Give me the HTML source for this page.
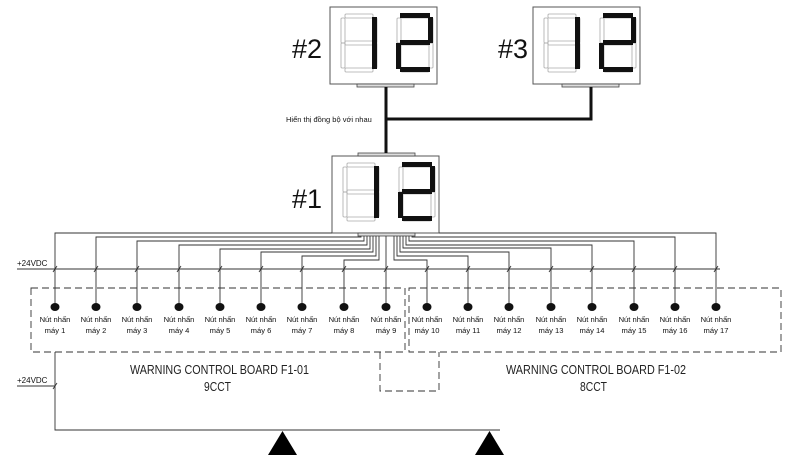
<!DOCTYPE html>
<html><head><meta charset="utf-8"><style>
html,body{margin:0;padding:0;background:#fff;}
svg{display:block;}
text{font-family:"Liberation Sans",sans-serif;}
.lbl{font-size:7.6px;fill:#111;text-anchor:middle;}
.big{font-family:"Liberation Sans",sans-serif;font-size:13px;fill:#222;}
</style></head><body>
<svg width="800" height="461" viewBox="0 0 800 461" xmlns="http://www.w3.org/2000/svg">
<defs>
  <g id="seg">
    <rect x="4" y="0" width="28" height="4" rx="1" fill="none" stroke="#aaa" stroke-width="0.8"/>
    <rect x="32" y="4" width="4" height="25" rx="1" fill="none" stroke="#aaa" stroke-width="0.8"/>
    <rect x="32" y="29" width="4" height="25" rx="1" fill="none" stroke="#aaa" stroke-width="0.8"/>
    <rect x="4" y="54" width="28" height="4" rx="1" fill="none" stroke="#aaa" stroke-width="0.8"/>
    <rect x="0" y="29" width="4" height="25" rx="1" fill="none" stroke="#aaa" stroke-width="0.8"/>
    <rect x="0" y="4" width="4" height="25" rx="1" fill="none" stroke="#aaa" stroke-width="0.8"/>
    <rect x="4" y="27" width="28" height="4" rx="1" fill="none" stroke="#aaa" stroke-width="0.8"/>
  </g>
  <g id="disp">
    <rect x="0" y="0" width="107" height="77" fill="#fff" stroke="#555" stroke-width="1"/>
    <use href="#seg" x="11" y="7"/>
    <use href="#seg" x="67" y="7"/>
    <rect x="42" y="10" width="5" height="26" fill="#111"/>
    <rect x="42" y="36" width="5" height="26" fill="#111"/>
    <rect x="70" y="6" width="30" height="5" fill="#111"/>
    <rect x="98" y="10" width="5" height="26" fill="#111"/>
    <rect x="70" y="33" width="30" height="5" fill="#111"/>
    <rect x="66" y="36" width="5" height="26" fill="#111"/>
    <rect x="70" y="60" width="30" height="5" fill="#111"/>
  </g>
</defs>

<use href="#disp" x="330" y="7"/>
<use href="#disp" x="533" y="7"/>
<use href="#disp" x="332" y="156"/>
<text x="292" y="58" font-size="27" fill="#111">#2</text>
<text x="498" y="58" font-size="27" fill="#111">#3</text>
<text x="292" y="208" font-size="27" fill="#111">#1</text>

<rect x="357" y="84" width="57" height="3" fill="#ddd" stroke="#444" stroke-width="0.8"/>
<rect x="562" y="84" width="57" height="3" fill="#ddd" stroke="#444" stroke-width="0.8"/>
<rect x="358" y="153" width="57" height="3" fill="#ddd" stroke="#444" stroke-width="0.8"/>
<rect x="358" y="233" width="57" height="3" fill="#ddd" stroke="#444" stroke-width="0.8"/>
<path d="M386 87 V153 M386 119 H591 V87" stroke="#111" stroke-width="3" fill="none"/>
<text x="286" y="122" font-size="7.5" fill="#111">Hiển thị đồng bộ với nhau</text>

<g stroke="#333" stroke-width="0.9" fill="none">
<path d="M55 307 V233 H332"/>
<path d="M96 307 V237 H361 V236"/>
<path d="M137 307 V241 H364 V236"/>
<path d="M179 307 V245 H367 V236"/>
<path d="M220 307 V249 H370 V236"/>
<path d="M261 307 V252 H373 V236"/>
<path d="M302 307 V256 H376 V236"/>
<path d="M344 307 V260 H379 V236"/>
<path d="M386 307 V236"/>
<path d="M427 307 V260 H394 V236"/>
<path d="M468 307 V256 H397 V236"/>
<path d="M509 307 V252 H400 V236"/>
<path d="M551 307 V248 H403 V236"/>
<path d="M592 307 V245 H406 V236"/>
<path d="M634 307 V241 H409 V236"/>
<path d="M675 307 V237 H412 V236"/>
<path d="M716 307 V233 H439"/>
<path d="M17 269 H720"/>
<path d="M55 352 V430 H500"/>
<path d="M17 386 H55"/>
<path d="M53 272 L57 266 M94 272 L98 266 M135 272 L139 266 M177 272 L181 266 M218 272 L222 266 M259 272 L263 266 M300 272 L304 266 M342 272 L346 266 M384 272 L388 266 M425 272 L429 266 M466 272 L470 266 M507 272 L511 266 M549 272 L553 266 M590 272 L594 266 M632 272 L636 266 M673 272 L677 266 M714 272 L718 266 M53 389 L57 383"/>
</g>
<text x="17" y="266" font-size="8" fill="#111">+24VDC</text>
<text x="17" y="383" font-size="8" fill="#111">+24VDC</text>

<g stroke="#333" stroke-width="0.9" fill="none" stroke-dasharray="7,4">
<rect x="31" y="288" width="374" height="64"/>
<rect x="409" y="288" width="372" height="64"/>
<path d="M380 352 V391 H439 V352"/>
</g>

<g fill="#111">
<ellipse cx="55" cy="307" rx="4.5" ry="4"/><ellipse cx="96" cy="307" rx="4.5" ry="4"/><ellipse cx="137" cy="307" rx="4.5" ry="4"/><ellipse cx="179" cy="307" rx="4.5" ry="4"/><ellipse cx="220" cy="307" rx="4.5" ry="4"/><ellipse cx="261" cy="307" rx="4.5" ry="4"/><ellipse cx="302" cy="307" rx="4.5" ry="4"/><ellipse cx="344" cy="307" rx="4.5" ry="4"/><ellipse cx="386" cy="307" rx="4.5" ry="4"/><ellipse cx="427" cy="307" rx="4.5" ry="4"/><ellipse cx="468" cy="307" rx="4.5" ry="4"/><ellipse cx="509" cy="307" rx="4.5" ry="4"/><ellipse cx="551" cy="307" rx="4.5" ry="4"/><ellipse cx="592" cy="307" rx="4.5" ry="4"/><ellipse cx="634" cy="307" rx="4.5" ry="4"/><ellipse cx="675" cy="307" rx="4.5" ry="4"/><ellipse cx="716" cy="307" rx="4.5" ry="4"/>
</g>

<g class="lbl">
<text x="55" y="322">Nút nhấn</text><text x="55" y="333">máy 1</text>
<text x="96" y="322">Nút nhấn</text><text x="96" y="333">máy 2</text>
<text x="137" y="322">Nút nhấn</text><text x="137" y="333">máy 3</text>
<text x="179" y="322">Nút nhấn</text><text x="179" y="333">máy 4</text>
<text x="220" y="322">Nút nhấn</text><text x="220" y="333">máy 5</text>
<text x="261" y="322">Nút nhấn</text><text x="261" y="333">máy 6</text>
<text x="302" y="322">Nút nhấn</text><text x="302" y="333">máy 7</text>
<text x="344" y="322">Nút nhấn</text><text x="344" y="333">máy 8</text>
<text x="386" y="322">Nút nhấn</text><text x="386" y="333">máy 9</text>
<text x="427" y="322">Nút nhấn</text><text x="427" y="333">máy 10</text>
<text x="468" y="322">Nút nhấn</text><text x="468" y="333">máy 11</text>
<text x="509" y="322">Nút nhấn</text><text x="509" y="333">máy 12</text>
<text x="551" y="322">Nút nhấn</text><text x="551" y="333">máy 13</text>
<text x="592" y="322">Nút nhấn</text><text x="592" y="333">máy 14</text>
<text x="634" y="322">Nút nhấn</text><text x="634" y="333">máy 15</text>
<text x="675" y="322">Nút nhấn</text><text x="675" y="333">máy 16</text>
<text x="716" y="322">Nút nhấn</text><text x="716" y="333">máy 17</text>
</g>

<text class="big" x="130" y="374" textLength="179" lengthAdjust="spacingAndGlyphs">WARNING CONTROL BOARD F1-01</text>
<text class="big" x="204" y="391" textLength="27" lengthAdjust="spacingAndGlyphs">9CCT</text>
<text class="big" x="506" y="374" textLength="180" lengthAdjust="spacingAndGlyphs">WARNING CONTROL BOARD F1-02</text>
<text class="big" x="580" y="391" textLength="27" lengthAdjust="spacingAndGlyphs">8CCT</text>

<polygon points="268,455 297,455 282.5,431" fill="#000"/>
<polygon points="475,455 504,455 489.5,431" fill="#000"/>
</svg>
</body></html>
